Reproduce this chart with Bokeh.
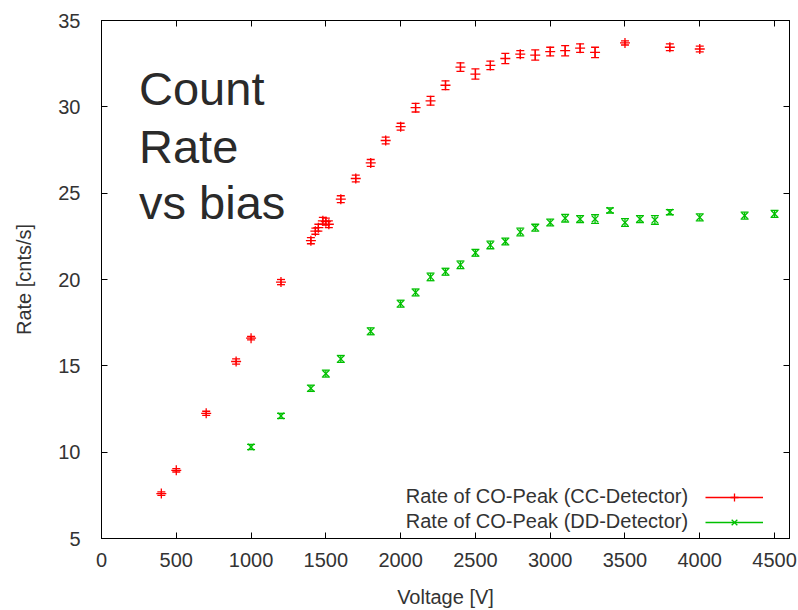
from bokeh.plotting import figure
from bokeh.models import (ColumnDataSource, Range1d, SingleIntervalTicker, LinearAxis,
                          Whisker, TeeHead, Label, Legend, LegendItem, CustomLabelingPolicy)
from bokeh.embed import file_html
from bokeh.resources import INLINE
from bokeh.core.properties import value

# ---- data ----
cc_voltage = [400, 500, 700, 900, 1000, 1200, 1400, 1430, 1450, 1480, 1500, 1520, 1600,
              1700, 1800, 1900, 2000, 2100, 2200, 2300, 2400, 2500, 2600, 2700, 2800,
              2900, 3000, 3100, 3200, 3300, 3500, 3800, 4000]
cc_rate = [7.6, 8.95, 12.25, 15.25, 16.6, 19.85, 22.25, 22.8, 23.0, 23.4, 23.35, 23.2, 24.65,
           25.85, 26.75, 28.05, 28.85, 29.95, 30.35, 31.25, 32.3, 31.9, 32.4, 32.8, 33.05,
           33.0, 33.2, 33.25, 33.4, 33.15, 33.7, 33.45, 33.35]
cc_err = [0.1, 0.1, 0.12, 0.15, 0.1, 0.15, 0.18, 0.18, 0.2, 0.2, 0.2, 0.2, 0.2,
          0.2, 0.2, 0.2, 0.2, 0.25, 0.25, 0.25, 0.25, 0.3, 0.25, 0.3, 0.2,
          0.3, 0.25, 0.3, 0.25, 0.3, 0.12, 0.2, 0.17]

dd_voltage = [1000, 1200, 1400, 1500, 1600, 1800, 2000, 2100, 2200, 2300, 2400, 2500, 2600,
              2700, 2800, 2900, 3000, 3100, 3200, 3300, 3400, 3500, 3600, 3700, 3800,
              4000, 4300, 4500]
dd_rate = [10.3, 12.1, 13.7, 14.55, 15.4, 17.0, 18.6, 19.25, 20.15, 20.45, 20.85, 21.55, 22.0,
           22.2, 22.75, 23.0, 23.3, 23.55, 23.5, 23.5, 24.0, 23.3, 23.5, 23.45, 23.9,
           23.6, 23.7, 23.8]
dd_err = [0.15, 0.15, 0.18, 0.2, 0.2, 0.2, 0.2, 0.2, 0.22, 0.2, 0.22, 0.2, 0.22,
          0.2, 0.22, 0.2, 0.2, 0.22, 0.2, 0.25, 0.15, 0.22, 0.2, 0.25, 0.15,
          0.2, 0.2, 0.2]

cc_label = "Rate of CO-Peak (CC-Detector)"
dd_label = "Rate of CO-Peak (DD-Detector)"
title_lines = ["Count", "Rate", "vs bias"]
x_title = "Voltage [V]"
y_title = "Rate [cnts/s]"

RED = "#ff0000"
GREEN = "#00c000"
TXT = "#333333"
FONT = "Liberation Sans"
NAN = float("nan")

p = figure(width=798, height=610, output_backend="svg", toolbar_location=None,
           x_range=Range1d(0, 4600), y_range=Range1d(5, 35),
           min_border_left=101, min_border_right=9, min_border_top=20, min_border_bottom=71)
p.grid.visible = False
p.outline_line_color = "black"
p.outline_line_width = 1
p.background_fill_color = "white"
p.border_fill_color = "white"

p.xaxis.ticker = SingleIntervalTicker(interval=500)
p.yaxis.ticker = SingleIntervalTicker(interval=5)

for ax in (p.xaxis[0], p.yaxis[0]):
    ax.major_tick_in = 6
    ax.major_tick_out = 0
    ax.minor_tick_line_color = None
    ax.axis_line_color = "black"
    ax.major_tick_line_color = "black"
    ax.major_label_text_font = FONT
    ax.major_label_text_font_size = "20px"
    ax.major_label_text_color = TXT
    ax.axis_label_text_font = FONT
    ax.axis_label_text_font_size = "20px"
    ax.axis_label_text_font_style = "normal"
    ax.axis_label_text_color = TXT

p.xaxis.axis_label = x_title
p.yaxis.axis_label = y_title
p.xaxis.major_label_standoff = 10
p.xaxis.axis_label_standoff = 16
p.yaxis.major_label_standoff = 17
p.yaxis.axis_label_standoff = 20

# mirrored tick marks on top and right, without any labels
hide_all = "for (const i of Array.from(indices)) indices.unset(i); return indices"
top = LinearAxis(ticker=SingleIntervalTicker(interval=500), major_label_text_font_size="1px",
                 major_label_policy=CustomLabelingPolicy(code=hide_all),
                 major_tick_in=6, major_tick_out=0, minor_tick_line_color=None,
                 axis_line_color="black", major_label_standoff=0)
right = LinearAxis(ticker=SingleIntervalTicker(interval=5), major_label_text_font_size="1px",
                   major_label_policy=CustomLabelingPolicy(code=hide_all),
                   major_tick_in=6, major_tick_out=0, minor_tick_line_color=None,
                   axis_line_color="black", major_label_standoff=0)
p.add_layout(top, "above")
p.add_layout(right, "right")

cc_src = ColumnDataSource(dict(x=cc_voltage, y=cc_rate,
                               lo=[r - e for r, e in zip(cc_rate, cc_err)],
                               hi=[r + e for r, e in zip(cc_rate, cc_err)]))
dd_src = ColumnDataSource(dict(x=dd_voltage, y=dd_rate,
                               lo=[r - e for r, e in zip(dd_rate, dd_err)],
                               hi=[r + e for r, e in zip(dd_rate, dd_err)]))

for src, col in ((cc_src, RED), (dd_src, GREEN)):
    w = Whisker(source=src, base="x", lower="lo", upper="hi", dimension="height",
                line_color=col, line_width=1.3,
                lower_head=TeeHead(size=8, line_color=col, line_width=1.3),
                upper_head=TeeHead(size=8, line_color=col, line_width=1.3))
    p.add_layout(w)

cc_sc = p.scatter("x", "y", source=cc_src, marker="cross", size=10, line_color=RED, line_width=1.3)
dd_sc = p.scatter("x", "y", source=dd_src, marker="x", size=9, line_color=GREEN, line_width=1.3)

# legend keys: line renderers holding no visible point, only used for the key bar
cc_line = p.line(x=[NAN], y=[NAN], line_color=RED, line_width=1.3)
dd_line = p.line(x=[NAN], y=[NAN], line_color=GREEN, line_width=1.3)
leg = Legend(items=[LegendItem(label=value(""), renderers=[cc_line, cc_sc]),
                    LegendItem(label=value(""), renderers=[dd_line, dd_sc])],
             location=(604, 6), glyph_width=58, glyph_height=20, label_height=20,
             label_width=1, label_standoff=0, spacing=5, padding=0, margin=0,
             border_line_alpha=0, background_fill_alpha=0)
p.add_layout(leg)

# legend texts
for txt, yv in ((cc_label, 7.49), (dd_label, 6.04)):
    p.add_layout(Label(x=3922, y=yv, text=txt, text_align="right", text_baseline="middle",
                       text_font=FONT, text_font_size="20px", text_color=TXT))

# big annotation text
for txt, yv in zip(title_lines, [31.07, 27.71, 24.48]):
    p.add_layout(Label(x=251, y=yv, text=txt, text_align="left", text_baseline="alphabetic",
                       text_font=FONT, text_font_size="47px", text_color="#2a2a2a"))

open("out.html", "w").write(file_html(p, INLINE))
